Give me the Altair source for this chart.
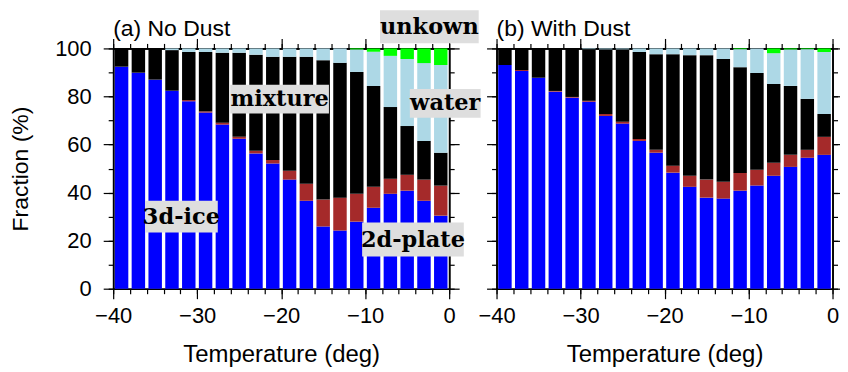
import altair as alt
import pandas as pd

# ---------------- data ----------------
temps = [-39, -37, -35, -33, -31, -29, -27, -25, -23, -21,
         -19, -17, -15, -13, -11, -9, -7, -5, -3, -1]
categories = ["3d-ice", "2d-plate", "mixture", "water", "unkown"]
colors = ["#0000ff", "#a52a2a", "#000000", "#add8e6", "#00ff00"]

nodust_ice = [92.4, 89.9, 87.0, 82.4, 78.0, 73.3, 68.3, 62.4, 56.3, 52.1,
              45.4, 36.6, 25.9, 24.2, 27.9, 33.7, 39.5, 40.8, 36.6, 30.4]
nodust_plate = [0, 0, 0, 0, 0.5, 0.5, 0.8, 0.8, 1.1, 1.5,
                3.7, 7.1, 11.2, 13.7, 11.6, 8.7, 6.3, 6.6, 8.8, 12.5]
nodust_mix = [7.6, 10.1, 13.0, 16.9, 20.0, 24.7, 29.1, 35.0, 40.0, 42.9,
              47.4, 52.8, 58.0, 56.1, 50.7, 42.0, 29.8, 20.3, 16.1, 13.7]
nodust_water = [0, 0, 0, 0.7, 1.5, 1.5, 1.8, 1.8, 2.6, 3.5,
                3.5, 3.5, 4.9, 6.0, 9.4, 14.2, 21.3, 27.9, 32.4, 36.5]
nodust_unk = [0, 0, 0, 0, 0, 0, 0, 0, 0, 0,
              0, 0, 0, 0, 0.4, 1.4, 3.1, 4.4, 6.1, 6.9]

dust_ice = [93.1, 90.6, 87.8, 82.0, 79.5, 77.8, 71.9, 68.7, 61.5, 56.6,
            48.3, 42.4, 37.9, 37.5, 40.8, 42.9, 47.0, 50.7, 54.5, 55.7]
dust_plate = [0, 0.4, 0, 0.3, 0.3, 0.4, 0.8, 0.8, 0.8, 1.2,
              2.9, 4.6, 7.5, 7.0, 7.4, 6.6, 5.4, 5.0, 3.3, 7.5]
dust_mix = [6.9, 9.0, 12.2, 17.7, 20.2, 21.5, 26.9, 30.1, 36.2, 39.8,
            46.4, 50.2, 51.8, 51.1, 44.0, 40.3, 32.8, 28.7, 21.2, 9.5]
dust_water = [0, 0, 0, 0, 0, 0.3, 0.4, 0.4, 1.5, 2.4,
              2.4, 2.8, 2.8, 4.4, 7.5, 10.2, 12.8, 15.2, 20.7, 25.8]
dust_unk = [0, 0, 0, 0, 0, 0, 0, 0, 0, 0,
            0, 0, 0, 0, 0.3, 0, 2.0, 0.4, 0.3, 1.5]

x_major = [-40, -30, -20, -10, 0]
x_minor = [-40, -38, -36, -34, -32, -30, -28, -26, -24, -22, -20,
           -18, -16, -14, -12, -10, -8, -6, -4, -2, 0]
y_major = [0, 20, 40, 60, 80, 100]
y_minor = [0, 10, 20, 30, 40, 50, 60, 70, 80, 90, 100]

# annotation labels (panel a): text, centre x, box low / high (data units), box width px
ann_text = ["unkown", "mixture", "water", "3d-ice", "2d-plate"]
ann_x = [-2.36, -20.19, -0.47, -31.88, -4.31]
ann_lo = [102.2, 72.9, 71.1, 23.4, 13.4]
ann_hi = [115.9, 84.9, 83.1, 36.6, 27.5]
ann_w = [99, 99, 71, 73, 102]

panel_names = ["nodust", "dust"]
panel_titles = ["(a) No Dust", "(b) With Dust"]

# ---------------- tables ----------------
series = {
    "nodust": [nodust_ice, nodust_plate, nodust_mix, nodust_water, nodust_unk],
    "dust": [dust_ice, dust_plate, dust_mix, dust_water, dust_unk],
}
rows = []
for p, arrs in series.items():
    for ci, (cat, vals) in enumerate(zip(categories, arrs)):
        for t, v in zip(temps, vals):
            rows.append({"panel": p, "temp": t, "category": cat, "value": v, "order": ci})
df = pd.DataFrame(rows)

ann = pd.DataFrame({"text": ann_text, "x": ann_x, "lo": ann_lo, "hi": ann_hi, "w": ann_w})
ann["mid"] = (ann["lo"] + ann["hi"]) / 2
ttl = pd.DataFrame({"panel": panel_names, "text": panel_titles, "x": [-40, -40], "y": [105.3, 105.3]})

FONT = "Liberation Sans"
W, H = 337, 241

xs = alt.Scale(domain=[-40, 0], nice=False, zero=False, padding=0)
ys = alt.Scale(domain=[0, 100], nice=False, zero=False, padding=0)

AX = dict(domainColor="black", tickColor="black", domainWidth=1.6, tickWidth=1.2,
          labelFlush=False, labelOverlap=False, grid=False)


def make_panel(pname, idx):
    base = alt.Chart(df).transform_filter(alt.datum.panel == pname)
    first = idx == 0
    bars = base.mark_bar(size=13.5).encode(
        x=alt.X("temp:Q", scale=xs,
                axis=alt.Axis(orient="bottom", values=x_major, tickSize=10, labelPadding=7,
                              title="Temperature (deg)", titlePadding=16, titleFontSize=24, **AX)),
        y=alt.Y("value:Q", stack="zero", scale=ys,
                axis=alt.Axis(orient="left", values=y_major, tickSize=10, labels=first,
                              labelPadding=12, titlePadding=22,
                              title=("Fraction (%)" if first else None), **AX)),
        color=alt.Color("category:N", scale=alt.Scale(domain=categories, range=colors), legend=None),
        order=alt.Order("order:Q", sort="ascending"),
    )
    minor = base.mark_point(opacity=0).encode(
        x=alt.X("temp:Q", scale=xs,
                axis=alt.Axis(orient="bottom", values=x_minor, tickSize=5, labels=False, title=None, **AX)),
        y=alt.Y("value:Q", scale=ys,
                axis=alt.Axis(orient="left", values=y_minor, tickSize=5, labels=False, title=None, **AX)),
    )
    top_major = base.mark_point(opacity=0).encode(
        x=alt.X("temp:Q", scale=xs,
                axis=alt.Axis(orient="top", values=x_major, tickSize=10, labels=False, title=None, **AX)),
        y=alt.Y("value:Q", scale=ys,
                axis=alt.Axis(orient="right", values=y_major, tickSize=10, labels=False, title=None, **AX)),
    )
    top_minor = base.mark_point(opacity=0).encode(
        x=alt.X("temp:Q", scale=xs,
                axis=alt.Axis(orient="top", values=x_minor, tickSize=5, labels=False, title=None, **AX)),
        y=alt.Y("value:Q", scale=ys,
                axis=alt.Axis(orient="right", values=y_minor, tickSize=5, labels=False, title=None, **AX)),
    )
    title = alt.Chart(ttl).transform_filter(alt.datum.panel == pname).mark_text(
        font=FONT, fontSize=23, align="left", baseline="alphabetic", color="black"
    ).encode(
        x=alt.X("x:Q", scale=xs, axis=None),
        y=alt.Y("y:Q", scale=ys, axis=None),
        text="text:N",
    )
    layers = [bars, minor, top_major, top_minor, title]
    if first:
        boxes = alt.Chart(ann).mark_bar(color="#dedede").encode(
            x=alt.X("x:Q", scale=xs, axis=None),
            y=alt.Y("lo:Q", scale=ys, axis=None),
            y2="hi:Q",
            size=alt.Size("w:Q", scale=None, legend=None),
        )
        texts = alt.Chart(ann).mark_text(
            font="DejaVu Serif", fontWeight="bold", fontSize=22.5, align="center",
            baseline="middle", color="black"
        ).encode(
            x=alt.X("x:Q", scale=xs, axis=None),
            y=alt.Y("mid:Q", scale=ys, axis=None),
            text="text:N",
        )
        layers += [boxes, texts]
    return alt.layer(*layers).resolve_axis(x="independent", y="independent").properties(width=W, height=H)


chart = alt.hconcat(make_panel("nodust", 0), make_panel("dust", 1), spacing=47.5, bounds="flush").properties(
    padding={"left": 1.5, "top": 1, "right": -4, "bottom": 0}
).configure_view(stroke=None).configure_axis(
    labelFont=FONT, labelFontSize=22, labelColor="black",
    titleFont=FONT, titleFontSize=23, titleFontWeight="normal", titleColor="black",
)

chart.save("out.html", embed_options={"renderer": "svg", "actions": False})
